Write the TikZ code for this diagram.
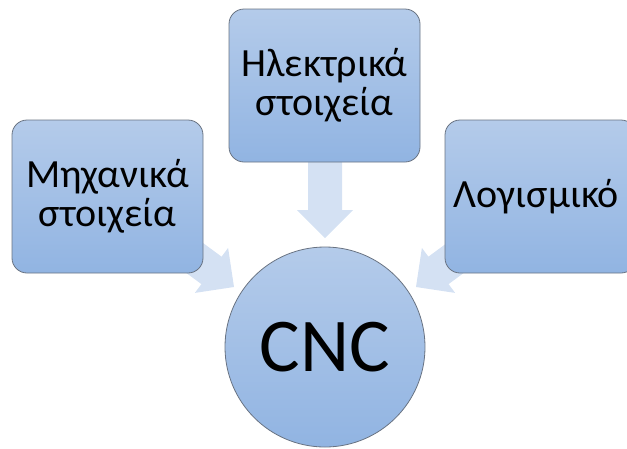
\documentclass[tikz,border=0pt]{standalone}
\usepackage{fontspec}
\setmainfont{Carlito}
\definecolor{boxtop}{RGB}{180,203,234}
\definecolor{boxbot}{RGB}{145,180,226}
\definecolor{boxline}{RGB}{105,115,130}
\definecolor{arrowfill}{RGB}{212,225,243}
\tikzset{
  blockbox/.style={draw=boxline, line width=0.8pt, rounded corners=15pt,
    top color=boxtop, bottom color=boxbot, minimum width=191pt, minimum height=153pt,
    inner sep=0pt, align=center, text=black,
    font=\fontsize{40}{39}\selectfont},
  hubcircle/.style={draw=boxline, line width=0.8pt, circle,
    top color=boxtop, bottom color=boxbot, minimum size=200pt, inner sep=0pt,
    font=\fontsize{76}{86}\selectfont},
  blockarrow/.style={fill=arrowfill, draw=none}
}
\begin{document}
\begin{tikzpicture}[x=1pt,y=-1pt]
\useasboundingbox (0,0) rectangle (627,448);
% block arrows (behind the boxes)
\fill[blockarrow] (308,150) -- (342,150) -- (342,210) -- (353,210) -- (325,238)
  -- (297,210) -- (308,210) -- cycle;
\fill[blockarrow] (145.1,242.5) -- (201.4,284.1) -- (194.9,292.9) -- (234,287)
  -- (228.1,247.9) -- (221.6,256.7) -- (165.3,215.1) -- cycle;
\fill[blockarrow] (504.9,242.5) -- (448.6,284.1) -- (455.1,292.9) -- (416,287)
  -- (421.9,247.9) -- (428.4,256.7) -- (484.7,215.1) -- cycle;
% boxes
\node[blockbox] (mech) at (107.5,196.5) {Μηχανικά\\στοιχεία};
\node[blockbox] (elec) at (324.5,85.5) {Ηλεκτρικά\\στοιχεία};
\node[blockbox] (soft) at (540.5,196.5) {\hspace*{-8pt}Λογισμικό};
\node[hubcircle] (cnc) at (325,347) {CNC};
\end{tikzpicture}
\end{document}
